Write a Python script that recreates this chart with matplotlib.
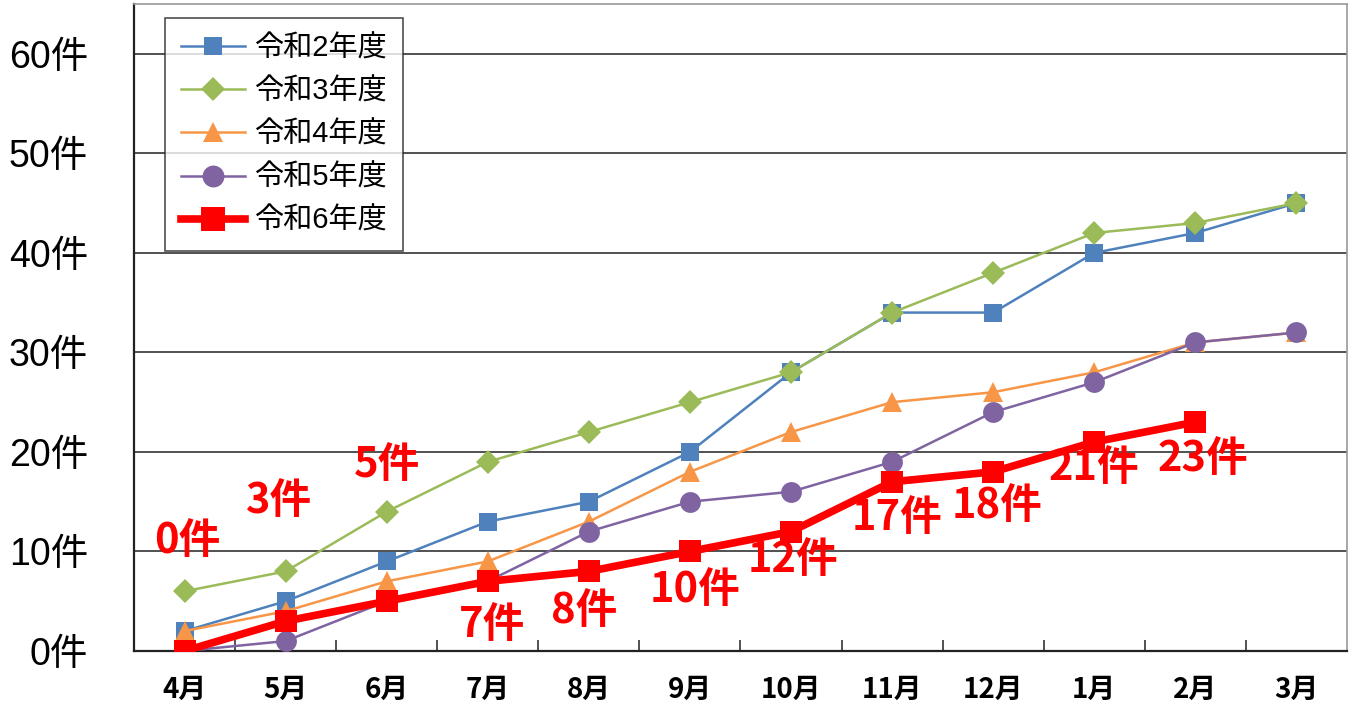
import matplotlib
matplotlib.use("Agg")
import matplotlib.pyplot as plt
from matplotlib.ticker import FixedLocator

plt.rcParams['font.family'] = ['Noto Sans CJK JP', 'DejaVu Sans']
latin_first = ['Liberation Sans', 'Noto Sans CJK JP']

months = ["4月", "5月", "6月", "7月", "8月", "9月", "10月", "11月", "12月", "1月", "2月", "3月"]
series_names = ["令和2年度", "令和3年度", "令和4年度", "令和5年度", "令和6年度"]
r2 = [2, 5, 9, 13, 15, 20, 28, 34, 34, 40, 42, 45]
r3 = [6, 8, 14, 19, 22, 25, 28, 34, 38, 42, 43, 45]
r4 = [2, 4, 7, 9, 13, 18, 22, 25, 26, 28, 31, 32]
r5 = [0, 1, 5, 7, 12, 15, 16, 19, 24, 27, 31, 32]
r6 = [0, 3, 5, 7, 8, 10, 12, 17, 18, 21, 23]
y_ticks = [0, 10, 20, 30, 40, 50, 60]

# label placement (x, y in data units) for the current-year counts
label_pos = [(0.03, 11.1), (0.94, 15.1), (2.0, 18.7), (3.04, 2.6), (3.95, 4.0),
             (5.05, 6.1), (6.02, 9.1), (7.05, 13.4), (8.04, 14.6), (9.0, 18.4),
             (10.07, 19.3)]

fig = plt.figure(figsize=(13.52, 7.07), dpi=100)
ax = fig.add_axes([0.0991, 0.0792, 0.8972, 0.9151])

styles = [
    dict(color="#4F81BD", marker="s", ms=13, lw=1.8),
    dict(color="#9BBB59", marker="D", ms=12, lw=1.8),
    dict(color="#F79646", marker="^", ms=14, lw=1.8),
    dict(color="#8064A2", marker="o", ms=15, lw=1.8),
    dict(color="#FF0000", marker="s", ms=16, lw=5.5),
]
for name, vals, st in zip(series_names, [r2, r3, r4, r5, r6], styles):
    x = list(range(len(vals)))
    ax.plot(x, vals, color=st["color"], marker=st["marker"], markersize=st["ms"],
            linewidth=st["lw"], markeredgewidth=0, label=name, zorder=3)

for v, (lx, ly) in zip(r6, label_pos):
    ax.text(lx, ly, f"{v}件", color="#FF0000", fontsize=30, fontweight="bold",
            ha="center", va="center", zorder=4)

ax.set_xlim(-0.5, 11.5)
ax.set_ylim(0, 65)
ax.set_xticks(range(len(months)))
ax.set_xticklabels(months, fontsize=20, fontweight="bold")
ax.xaxis.set_minor_locator(FixedLocator([i + 0.5 for i in range(11)]))
ax.tick_params(axis="x", which="major", length=0, pad=18)
ax.tick_params(axis="x", which="minor", direction="in", length=8, width=1.2, color="#333333")
ax.set_yticks(y_ticks)
ax.set_yticklabels([f"{t}件" for t in y_ticks], fontsize=27, family=latin_first)
ax.tick_params(axis="y", length=0, pad=33)

ax.yaxis.grid(True, color="#333333", linewidth=1.2)
ax.set_axisbelow(True)
for side in ["left", "bottom"]:
    ax.spines[side].set_color("#222222")
    ax.spines[side].set_linewidth(1.6)
for side in ["top", "right"]:
    ax.spines[side].set_color("#999999")
    ax.spines[side].set_linewidth(1.2)

leg = ax.legend(loc="upper left", bbox_to_anchor=(0.0256, 0.978),
                prop=dict(family=latin_first, size=21),
                frameon=True, fancybox=False, edgecolor="#222222",
                handlelength=2.2, labelspacing=0.52, borderpad=0.55,
                handletextpad=0.3, borderaxespad=0, markerscale=1.05)
leg.get_frame().set_linewidth(1.2)

fig.savefig("out.png", dpi=100)
